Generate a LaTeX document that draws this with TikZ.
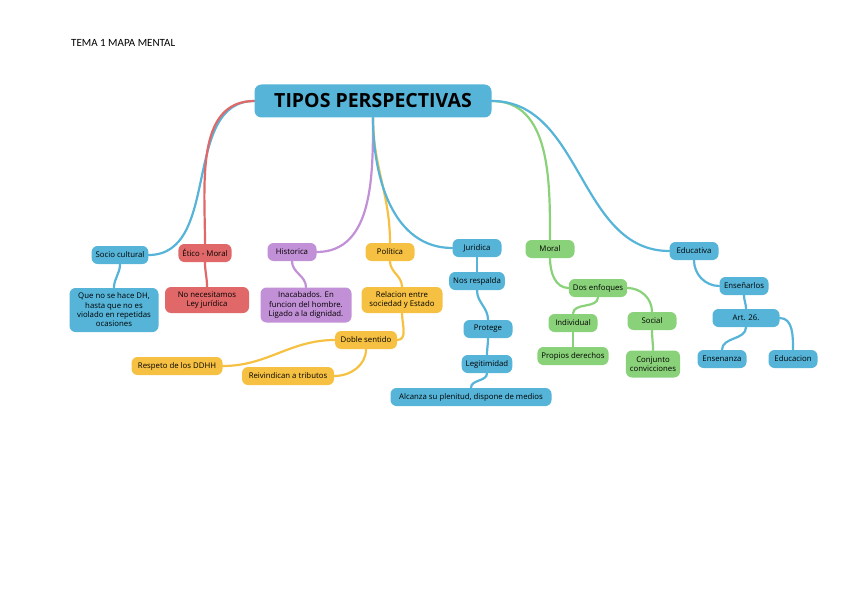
\documentclass[tikz,border=0pt]{standalone}
\usepackage{fontspec}
\setmainfont{Open Sans}
\newfontfamily\headfont{Carlito}
\usetikzlibrary{positioning, backgrounds}
\definecolor{mapblue}{HTML}{55B4D8}
\definecolor{mapred}{HTML}{E06868}
\definecolor{mappurple}{HTML}{C290D6}
\definecolor{mapyellow}{HTML}{F6C142}
\definecolor{mapgreen}{HTML}{8AD27A}

\begin{document}
\begin{tikzpicture}[
        x=1pt, y=-1pt,
        topic/.style={rectangle, rounded corners=6pt, minimum width=49pt,
                      minimum height=18pt, inner xsep=4pt, inner ysep=2pt,
                      align=center, text=black,
                      font=\fontsize{7.8}{9.3}\selectfont},
        root/.style={rectangle, rounded corners=7pt, fill=mapblue,
                     minimum width=237pt, minimum height=33pt,
                     font=\fontsize{19.5}{21}\selectfont\bfseries},
        link/.style={line width=2.2pt, line cap=round}
    ]
    \useasboundingbox (0,0) rectangle (848,599);

    \node[anchor=west, inner sep=0pt, font=\headfont\fontsize{11}{13}\selectfont]
          (header) at (71,43) {TEMA 1 MAPA MENTAL};

    %% CENTRE
    \node[root] (tipos) at (373,101) {TIPOS PERSPECTIVAS};

    %% FIRST LEVEL
    \node[topic, fill=mapblue]   (socio)     at (120,255) {Socio cultural};
    \node[topic, fill=mapred]    (etico)     at (205,253) {Ético - Moral};
    \node[topic, fill=mappurple] (historica) at (292,252) {Historica};
    \node[topic, fill=mapyellow] (politica)  at (390,252) {Política};
    \node[topic, fill=mapblue]   (juridica)  at (477,248) {Juridica};
    \node[topic, fill=mapgreen]  (moral)     at (550,249) {Moral};
    \node[topic, fill=mapblue]   (educativa) at (694,251) {Educativa};

    %% SOCIO CULTURAL / ETICO / HISTORICA
    \node[topic, fill=mapblue, minimum width=89pt, minimum height=44pt,
          inner xsep=2pt] (queno) at (114,310)
          {Que no se hace DH,\\hasta que no es\\violado en repetidas\\ocasiones};
    \node[topic, fill=mapred, minimum width=84pt, minimum height=26pt]
          (necesitamos) at (207,300) {No necesitamos\\Ley jurídica};
    \node[topic, fill=mappurple, minimum width=91pt, minimum height=35pt,
          inner xsep=2pt] (inacabados) at (306,305)
          {Inacabados. En\\funcion del hombre.\\Ligado a la dignidad.};

    %% POLITICA
    \node[topic, fill=mapyellow, minimum width=81pt, minimum height=26pt]
          (relacion) at (402,300) {Relacion entre\\sociedad y Estado};
    \node[topic, fill=mapyellow, minimum width=62pt] (doble) at (366,340)
          {Doble sentido};
    \node[topic, fill=mapyellow, minimum width=91pt] (respeto) at (177,366)
          {Respeto de los DDHH};
    \node[topic, fill=mapyellow, minimum width=92pt] (reivindican)
          at (288,376) {Reivindican a tributos};

    %% JURIDICA
    \node[topic, fill=mapblue] (respalda)    at (477,281) {Nos respalda};
    \node[topic, fill=mapblue] (protege)     at (488,329) {Protege};
    \node[topic, fill=mapblue] (legitimidad) at (487,364) {Legitimidad};
    \node[topic, fill=mapblue, minimum width=161pt] (alcanza) at (471,397)
          {Alcanza su plenitud, dispone de medios};

    %% MORAL
    \node[topic, fill=mapgreen] (enfoques)   at (598,288) {Dos enfoques};
    \node[topic, fill=mapgreen] (individual) at (573,323) {Individual};
    \node[topic, fill=mapgreen] (social)     at (652,321) {Social};
    \node[topic, fill=mapgreen] (propios)    at (573,356) {Propios derechos};
    \node[topic, fill=mapgreen, minimum height=27pt] (conjunto) at (653,364)
          {Conjunto\\convicciones};

    %% EDUCATIVA
    \node[topic, fill=mapblue] (ensenarlos) at (744,286) {Enseñarlos};
    \node[topic, fill=mapblue, minimum width=67pt] (art) at (746,318)
          {Art. 26.};
    \node[topic, fill=mapblue] (ensenanza)  at (722,359) {Ensenanza};
    \node[topic, fill=mapblue] (educacion)  at (793,359) {Educacion};

    %% CONNECTORS
    \begin{scope}[on background layer]
        \draw[link, mapblue]   (tipos.west) to[out=180, in=0] (socio.east);
        \draw[link, mapred]    (tipos.west) to[out=180, in=90] (etico.north);
        \draw[link, mappurple] (tipos.south) to[out=-90, in=0] (historica.east);
        \draw[link, mapyellow] (tipos.south) to[out=-90, in=90] (politica.north);
        \draw[link, mapblue]   (tipos.south) to[out=-90, in=180] (juridica.west);
        \draw[link, mapgreen]  (tipos.east) to[out=0, in=90] (moral.north);
        \draw[link, mapblue]   (tipos.east) to[out=0, in=180] (educativa.west);

        \draw[link, mapblue]   (socio.south) to[out=-90, in=90] (queno.north);
        \draw[link, mapred]    (etico.south) to[out=-90, in=90] (necesitamos.north);
        \draw[link, mappurple] (historica.south) to[out=-90, in=90] (inacabados.north);

        \draw[link, mapyellow] (politica.south) to[out=-90, in=90] (relacion.north);
        \draw[link, mapyellow] (relacion.south) to[out=-90, in=0] (doble.east);
        \draw[link, mapyellow] (doble.west) to[out=180, in=0] (respeto.east);
        \draw[link, mapyellow] (doble.south) to[out=-90, in=0] (reivindican.east);

        \draw[link, mapblue] (juridica.south) to[out=-90, in=90] (respalda.north);
        \draw[link, mapblue] (respalda.south) to[out=-90, in=90] (protege.north);
        \draw[link, mapblue] (protege.south) to[out=-90, in=90] (legitimidad.north);
        \draw[link, mapblue] (legitimidad.south) to[out=-90, in=90] (alcanza.north);

        \draw[link, mapgreen] (moral.south) to[out=-90, in=180] (enfoques.west);
        \draw[link, mapgreen] (enfoques.south) to[out=-90, in=90] (individual.north);
        \draw[link, mapgreen] (enfoques.east) to[out=0, in=90] (social.north);
        \draw[link, mapgreen] (individual.south) to[out=-90, in=90] (propios.north);
        \draw[link, mapgreen] (social.south) to[out=-90, in=90] (conjunto.north);

        \draw[link, mapblue] (educativa.south) to[out=-90, in=180] (ensenarlos.west);
        \draw[link, mapblue] (ensenarlos.south) to[out=-90, in=90] (art.north);
        \draw[link, mapblue] (art.south) to[out=-90, in=90] (ensenanza.north);
        \draw[link, mapblue] (art.east) to[out=0, in=90] (educacion.north);
    \end{scope}
\end{tikzpicture}
\end{document}
